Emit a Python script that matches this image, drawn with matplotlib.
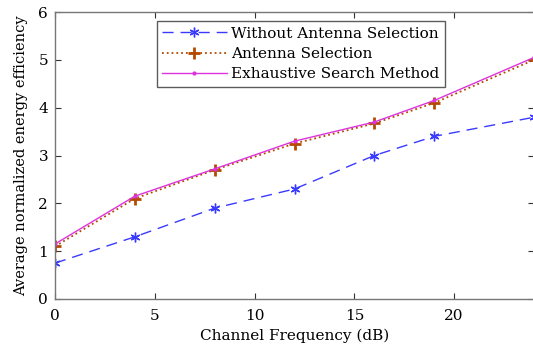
import matplotlib
matplotlib.use("Agg")
import matplotlib.pyplot as plt

# channel frequency (dB) and average normalized energy efficiency
freq = [0, 4, 8, 12, 16, 19, 24]
without_sel = [0.75, 1.3, 1.9, 2.3, 3.0, 3.4, 3.8]
antenna_sel = [1.1, 2.1, 2.7, 3.25, 3.67, 4.1, 5.0]
exhaustive = [1.15, 2.15, 2.72, 3.3, 3.7, 4.15, 5.05]

labels = ["Without Antenna Selection", "Antenna Selection", "Exhaustive Search Method"]

plt.rcParams["font.family"] = "DejaVu Serif"

fig = plt.figure(figsize=(5.33, 3.44), dpi=100)
ax = fig.add_axes([55 / 533, 45 / 344, 479 / 533, 287 / 344])

ax.plot(freq, without_sel, color="#3a3aff", linestyle=(0, (8, 5)), linewidth=1.0,
        marker=(6, 2, 0), markersize=7, markeredgewidth=1.0, label=labels[0])
ax.plot(freq, antenna_sel, color="#b34a00", linestyle=":", linewidth=1.3,
        marker="+", markersize=8, markeredgewidth=2, label=labels[1])
ax.plot(freq, exhaustive, color="#dd33dd", linestyle="-", linewidth=1.0,
        marker=".", markersize=4, label=labels[2])

ax.set_xlim(0, 24)
ax.set_ylim(0, 6)
ax.set_xticks([0, 5, 10, 15, 20])
ax.set_yticks(range(7))
ax.tick_params(direction="in", length=4, width=0.8, top=True, right=True,
               labelsize=11, colors="#333333", labelcolor="black")
ax.tick_params(axis="x", pad=7)
ax.tick_params(axis="y", pad=5)
for s in ax.spines.values():
    s.set_color("#777777")
    s.set_linewidth(1.0)

ax.set_xlabel("Channel Frequency (dB)", fontsize=11, labelpad=4)
ax.set_ylabel("Average normalized energy efficiency", fontsize=10.5, labelpad=7)

leg = ax.legend(loc="upper left", bbox_to_anchor=(0.213, 0.968), fontsize=11,
                frameon=True, fancybox=False, handlelength=4.2, handletextpad=0.3,
                borderpad=0.35, labelspacing=0.42, borderaxespad=0)
leg.get_frame().set_edgecolor("#333333")
leg.get_frame().set_linewidth(1.0)

fig.savefig("out.png", dpi=100)
